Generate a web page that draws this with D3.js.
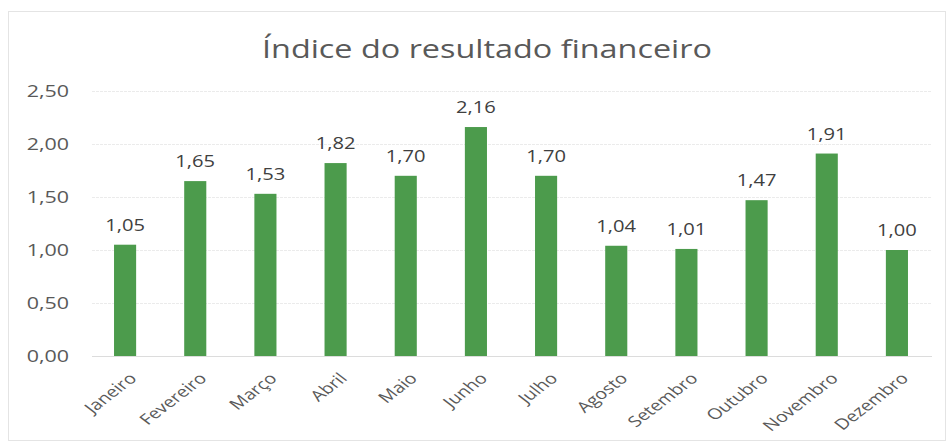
<!DOCTYPE html>
<html><head><meta charset="utf-8">
<script src="https://cdn.jsdelivr.net/npm/d3@7"></script>
<style>body{margin:0;background:#fff}svg{display:block}</style>
</head><body>
<svg id="c" width="949" height="444"></svg>
<script>
const categories = ["Janeiro","Fevereiro","Março","Abril","Maio","Junho","Julho","Agosto","Setembro","Outubro","Novembro","Dezembro"];
const values = [1.05,1.65,1.53,1.82,1.70,2.16,1.70,1.04,1.01,1.47,1.91,1.00];
const yTicks = [0,0.5,1,1.5,2,2.5];
const title = "Índice do resultado financeiro";

const svg = d3.select("#c");
const fmt = v => d3.format(".2f")(v).replace(".", ",");
const font = "'Open Sans', sans-serif";
const textColor = "#595959";
const sx = 1.3; // horizontal stretch of the original picture

function stretch(sel, f) {
  sel.each(function () {
    const w = this.getComputedTextLength();
    d3.select(this).attr("textLength", w * f).attr("lengthAdjust", "spacingAndGlyphs");
  });
}

svg.append("rect").attr("x",8.5).attr("y",11.5).attr("width",937).attr("height",429)
  .attr("fill","#fff").attr("stroke","#e4e4e4");

const x = d3.scaleBand().domain(categories).range([90, 932]).paddingInner(0.685).paddingOuter(0.3425);
const y = d3.scaleLinear().domain([0, 2.5]).range([356, 91]);

// gridlines
svg.append("g").selectAll("line").data(yTicks).join("line")
  .attr("x1", 92).attr("x2", 932)
  .attr("y1", d => Math.round(y(d)) + 0.5).attr("y2", d => Math.round(y(d)) + 0.5)
  .attr("stroke", d => d === 0 ? "#dcdcdc" : "#ebebeb").attr("stroke-width", 1)
  .attr("stroke-dasharray", d => d === 0 ? null : "3,1");

// y axis
const yAxis = d3.axisLeft(y).tickValues(yTicks).tickFormat(fmt).tickSize(0).tickPadding(0);
const gy = svg.append("g").attr("transform", "translate(69,0)").call(yAxis);
gy.select(".domain").remove();
gy.selectAll("text").attr("font-family", font).attr("font-size", 16.5).attr("fill", textColor)
  .call(stretch, sx);

// bars
svg.append("g").selectAll("rect").data(values).join("rect")
  .attr("x", (d, i) => x(categories[i]))
  .attr("y", d => y(d))
  .attr("width", x.bandwidth())
  .attr("height", d => y(0) - y(d))
  .attr("fill", "#4c9b4c");

// data labels
svg.append("g").selectAll("text").data(values).join("text")
  .attr("x", (d, i) => x(categories[i]) + x.bandwidth() / 2)
  .attr("y", d => y(d) - 14)
  .attr("text-anchor", "middle")
  .attr("font-family", font).attr("font-size", 15.5).attr("fill", "#404040")
  .text(fmt)
  .call(stretch, sx);

// x axis
const xAxis = d3.axisBottom(x).tickSize(0).tickPadding(0);
const gx = svg.append("g").call(xAxis);
gx.select(".domain").remove();
gx.selectAll(".tick").attr("transform", d => `translate(${x(d) + x.bandwidth() / 2 + 3},372) scale(${sx},1) rotate(-45)`);
gx.selectAll("text")
  .attr("font-family", font).attr("font-size", 15).attr("fill", textColor)
  .attr("text-anchor", "end").attr("x", 0).attr("y", 0).attr("dy", "0.7em");

// title
svg.append("text").attr("x", 487).attr("y", 58).attr("text-anchor", "middle")
  .attr("font-family", font).attr("font-size", 25).attr("fill", textColor)
  .attr("textLength", 450).attr("lengthAdjust", "spacingAndGlyphs")
  .text(title);
</script>
</body></html>
